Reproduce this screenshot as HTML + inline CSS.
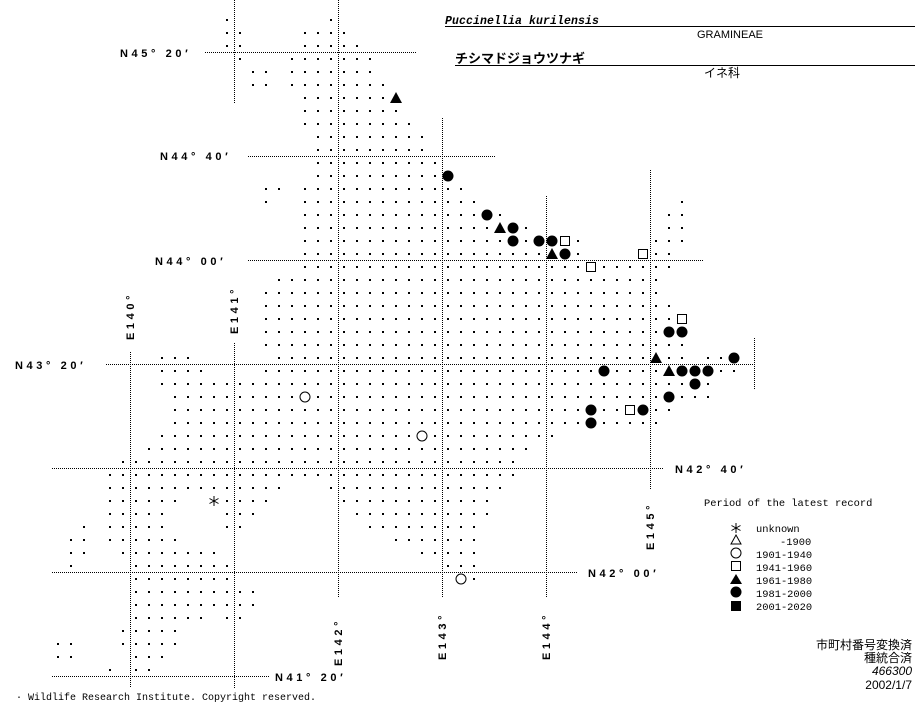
<!DOCTYPE html>
<html><head><meta charset="utf-8"><style>
html,body{margin:0;padding:0;background:#fff;}
body{width:923px;height:703px;overflow:hidden;position:relative;}
svg{position:absolute;left:0;top:0;}
.lab{font-family:"Liberation Sans",sans-serif;font-weight:bold;font-size:11px;letter-spacing:3.6px;fill:#000;}
.mono{font-family:"Liberation Mono",monospace;font-size:10px;fill:#000;}
.jp{font-family:"Liberation Sans","Noto Sans CJK JP",sans-serif;fill:#000;}
</style></head><body>
<svg id="s" width="923" height="703" xmlns="http://www.w3.org/2000/svg">
<g stroke="#000" stroke-width="1" stroke-dasharray="1,1" fill="none" id="lines">
<line x1="205" y1="52.5" x2="417" y2="52.5"/>
<line x1="248" y1="156.5" x2="495" y2="156.5"/>
<line x1="248" y1="260.5" x2="703" y2="260.5"/>
<line x1="106" y1="364.5" x2="755" y2="364.5"/>
<line x1="52" y1="468.5" x2="664" y2="468.5"/>
<line x1="52" y1="572.5" x2="577" y2="572.5"/>
<line x1="52" y1="676.5" x2="270" y2="676.5"/>
<line x1="130.5" y1="352" x2="130.5" y2="688"/>
<line x1="234.5" y1="0" x2="234.5" y2="104"/>
<line x1="234.5" y1="343" x2="234.5" y2="688"/>
<line x1="338.5" y1="0" x2="338.5" y2="598"/>
<line x1="442.5" y1="118" x2="442.5" y2="598"/>
<line x1="546.5" y1="196" x2="546.5" y2="598"/>
<line x1="650.5" y1="170" x2="650.5" y2="490"/>
<line x1="754.5" y1="338" x2="754.5" y2="390"/>
</g>
<g id="dots" fill="#000"></g>
<g id="sym"></g>
<text class="lab" x="120" y="57">N45° 20′</text>
<text class="lab" x="160" y="160">N44° 40′</text>
<text class="lab" x="155" y="265">N44° 00′</text>
<text class="lab" x="15" y="369">N43° 20′</text>
<text class="lab" x="675" y="473">N42° 40′</text>
<text class="lab" x="588" y="577">N42° 00′</text>
<text class="lab" x="275" y="681">N41° 20′</text>
<text class="lab" transform="translate(134,340) rotate(-90)">E140°</text>
<text class="lab" transform="translate(238,334) rotate(-90)">E141°</text>
<text class="lab" transform="translate(342,666) rotate(-90)">E142°</text>
<text class="lab" transform="translate(446,660) rotate(-90)">E143°</text>
<text class="lab" transform="translate(550,660) rotate(-90)">E144°</text>
<text class="lab" transform="translate(654,550) rotate(-90)">E145°</text>
<text x="445" y="24" style="font-family:'Liberation Mono',monospace;font-style:italic;font-weight:bold;font-size:11.5px;letter-spacing:0.1px">Puccinellia kurilensis</text>
<line x1="445" y1="26.5" x2="915" y2="26.5" stroke="#000"/>
<text x="697" y="38" style="font-family:'Liberation Sans',sans-serif;font-size:11px">GRAMINEAE</text>
<text class="jp" x="455" y="63" style="font-size:13px;font-weight:bold">チシマドジョウツナギ</text>
<line x1="455" y1="65.5" x2="915" y2="65.5" stroke="#000"/>
<text class="jp" x="704" y="77" style="font-size:12px">イネ科</text>
<text class="mono" x="704" y="506" style="font-size:10.4px">Period of the latest record</text>
<g stroke="#000" stroke-width="1"><line x1="736" y1="523" x2="736" y2="533"/><line x1="731.5" y1="525.5" x2="740.5" y2="530.5"/><line x1="731.5" y1="530.5" x2="740.5" y2="525.5"/></g>
<path d="M736 535 L741 544 L731 544 Z" fill="none" stroke="#000"/>
<circle cx="736" cy="553" r="5" fill="none" stroke="#000"/>
<rect x="731.5" y="561.5" width="9" height="9" fill="none" stroke="#000"/>
<path d="M736 574 L742 584 L730 584 Z" fill="#000"/>
<circle cx="736" cy="592" r="5.5" fill="#000"/>
<rect x="731" y="601" width="10" height="10" fill="#000"/>
<g class="mono" style="font-size:10.4px">
<text x="756" y="532">unknown</text>
<text x="780" y="545">-1900</text>
<text x="756" y="558">1901-1940</text>
<text x="756" y="571">1941-1960</text>
<text x="756" y="584">1961-1980</text>
<text x="756" y="597">1981-2000</text>
<text x="756" y="610">2001-2020</text>
</g>
<g class="jp" style="font-size:12px" text-anchor="end">
<text x="912" y="649">市町村番号変換済</text>
<text x="912" y="662">種統合済</text>
<text x="912" y="675" style="font-style:italic">466300</text>
<text x="912" y="689">2002/1/7</text>
</g>
<text x="16" y="700" style="font-family:'Liberation Mono',monospace;font-size:10px">· Wildlife Research Institute. Copyright reserved.</text>
</svg>
<script>
var rows={0:[[0,0],[8,8]],1:[[0,1],[6,9]],2:[[0,1],[6,10]],3:[[1,1],[5,11]],4:[[2,3],[5,11]],5:[[2,3],[5,12]],
6:[[6,12]],7:[[6,13]],8:[[6,14]],9:[[7,15]],10:[[7,15]],11:[[7,16]],12:[[7,17]],13:[[3,4],[6,18]],
14:[[3,3],[6,19],[35,35]],15:[[6,21],[34,35]],16:[[6,23],[34,35]],17:[[6,27],[33,35]],18:[[6,27],[32,34]],
19:[[6,34]],20:[[4,33]],21:[[3,33]],22:[[3,34]],23:[[3,35]],24:[[3,35]],25:[[3,35]],
26:[[-5,-3],[4,35],[37,39]],27:[[-5,-2],[3,39]],28:[[-5,37]],29:[[-4,37]],30:[[-4,34]],31:[[-4,33]],
32:[[-5,25]],33:[[-6,23]],34:[[-8,22]],35:[[-9,22]],36:[[-9,4],[8,21]],37:[[-9,-4],[-1,3],[9,20]],
38:[[-9,-5],[0,2],[10,20]],39:[[-11,-11],[-9,-5],[0,1],[11,19]],40:[[-12,-11],[-9,-4],[13,19]],
41:[[-12,-11],[-8,-1],[15,19]],42:[[-12,-12],[-7,0],[17,19]],43:[[-7,0],[18,19]],44:[[-7,2]],45:[[-7,2]],
46:[[-7,-2],[0,1]],47:[[-8,-4]],48:[[-13,-12],[-8,-4]],49:[[-13,-12],[-7,-5]],50:[[-9,-9],[-7,-6]]};
var FC=[[17,12],[20,15],[22,16],[22,17],[24,17],[25,17],[26,18],[39,26],[29,27],[35,27],[36,27],[37,27],[36,28],[34,29],[28,30],[32,30],[28,31],[34,24],[35,24]];
var FT=[[13,6],[21,16],[25,18],[33,26],[34,27]];
var OS=[[26,17],[32,18],[28,19],[35,23],[31,30]];
var OC=[[6,29],[15,32],[18,43]];
var AS=[[-1,37]];
function X(k){return 227+13*k;} function Y(j){return 20+13*j;}
var skip={};[FC,FT,OS,OC,AS].forEach(function(a){a.forEach(function(p){skip[p[0]+','+p[1]]=1;});});
var d='';
for(var j in rows){rows[j].forEach(function(r){for(var k=r[0];k<=r[1];k++){if(skip[k+','+j])continue;d+='<rect x="'+(X(k)-1)+'" y="'+(Y(+j)-1)+'" width="2" height="2"/>';}});}
document.getElementById('dots').innerHTML=d;
var s='';
FC.forEach(function(p){s+='<circle cx="'+X(p[0])+'" cy="'+Y(p[1])+'" r="5.5" fill="#000"/>';});
OC.forEach(function(p){s+='<circle cx="'+X(p[0])+'" cy="'+Y(p[1])+'" r="5" fill="none" stroke="#000"/>';});
FT.forEach(function(p){var x=X(p[0]),y=Y(p[1]);s+='<path d="M'+x+' '+(y-6)+' L'+(x+6)+' '+(y+5)+' L'+(x-6)+' '+(y+5)+' Z" fill="#000"/>';});
OS.forEach(function(p){var x=X(p[0]),y=Y(p[1]);s+='<rect x="'+(x-4.5)+'" y="'+(y-4.5)+'" width="9" height="9" fill="none" stroke="#000"/>';});
AS.forEach(function(p){var x=X(p[0]),y=Y(p[1]);s+='<g stroke="#000"><line x1="'+x+'" y1="'+(y-5)+'" x2="'+x+'" y2="'+(y+5)+'"/><line x1="'+(x-4.5)+'" y1="'+(y-2.5)+'" x2="'+(x+4.5)+'" y2="'+(y+2.5)+'"/><line x1="'+(x-4.5)+'" y1="'+(y+2.5)+'" x2="'+(x+4.5)+'" y2="'+(y-2.5)+'"/></g>';});
document.getElementById('sym').innerHTML=s;
</script>
</body></html>
